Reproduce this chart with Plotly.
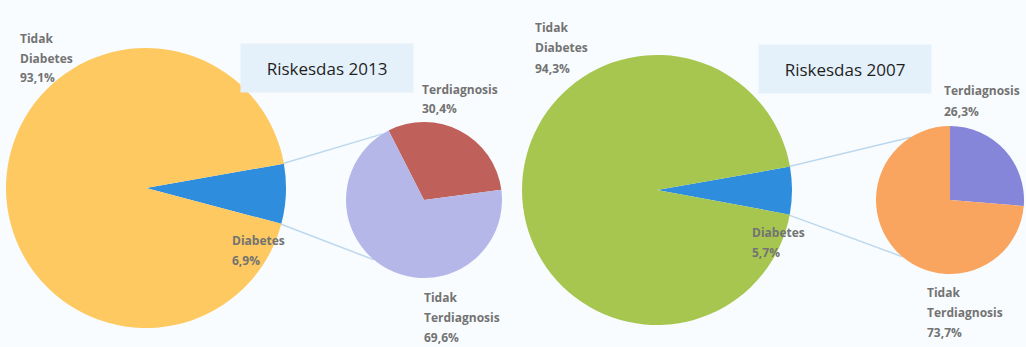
import math
import plotly.graph_objects as go

W, H = 1026, 347

# ---- data ----
big_labels = ["Diabetes", "Tidak Diabetes"]
small_labels = ["Terdiagnosis", "Tidak Terdiagnosis"]
titles = ["Riskesdas 2013", "Riskesdas 2007"]
big_2013 = [6.9, 93.1]
small_2013 = [30.4, 69.6]
big_2007 = [5.7, 94.3]
small_2007 = [26.3, 73.7]

# ---- styling / layout (pixels) ----
BG = "#f9fcfe"
big_colors = [["#2f8ddd", "#fdc960"], ["#2f8ddd", "#a6c650"]]
small_colors = [["#c0605b", "#b5b7e8"], ["#8585da", "#f9a55f"]]
# centre x, centre y, radius for each pie
big_geo = [(146, 188, 140), (657, 190, 135)]
small_geo = [(424, 200, 78), (950, 200, 74)]
big_rot = [80, 80]
small_rot = [-27, 0]
label_font = dict(family="Open Sans", size=12, color="#737373")
LINE = 21


def dom(cx, cy, r):
    return dict(x=[(cx - r) / W, (cx + r) / W], y=[1 - (cy + r) / H, 1 - (cy - r) / H])


def pt(cx, cy, r, ang):
    a = math.radians(ang)
    return (cx + r * math.sin(a)) / W, 1 - (cy - r * math.cos(a)) / H


fig = go.Figure()
shapes = []
annotations = []
datasets = [(big_2013, small_2013), (big_2007, small_2007)]

for i, (bvals, svals) in enumerate(datasets):
    bx, by, br = big_geo[i]
    sx, sy, sr = small_geo[i]
    fig.add_trace(go.Pie(labels=big_labels, values=bvals, sort=False, direction="clockwise",
                         rotation=big_rot[i], textinfo="none", hoverinfo="label+percent",
                         marker=dict(colors=big_colors[i], line=dict(width=0)),
                         domain=dom(bx, by, br), showlegend=False))
    fig.add_trace(go.Pie(labels=small_labels, values=svals, sort=False, direction="clockwise",
                         rotation=small_rot[i], textinfo="none", hoverinfo="label+percent",
                         marker=dict(colors=small_colors[i], line=dict(width=0)),
                         domain=dom(sx, sy, sr), showlegend=False))
    # connector lines from the Diabetes slice edges to the small pie
    a0 = big_rot[i]
    a1 = big_rot[i] + bvals[0] / sum(bvals) * 360
    p0 = pt(bx, by, br * 0.97, a0)
    p1 = pt(bx, by, br * 0.97, a1)
    q0 = pt(sx, sy, sr, -32)
    q1 = pt(sx, sy, sr, -140)
    for p, q in ((p0, q0), (p1, q1)):
        shapes.append(dict(type="line", xref="paper", yref="paper", x0=p[0], y0=p[1], x1=q[0], y1=q[1],
                           line=dict(color="#bcd8ee", width=1.5), layer="below"))

# title boxes
title_pos = [(327, 68), (845, 69)]
for t, (tx, ty) in zip(titles, title_pos):
    annotations.append(dict(text=t, x=tx / W, y=1 - ty / H, xref="paper", yref="paper",
                            xanchor="center", yanchor="middle", showarrow=False,
                            width=170, height=46, bgcolor="#e5f1fa",
                            font=dict(family="Open Sans", size=17, color="#1f1f1f")))


def fmt(v):
    return ("%.1f%%" % v).replace(".", ",")


# labels: (lines, x px, first-line y px)
label_specs = [
    (["Tidak", "Diabetes", fmt(big_2013[1])], 18, 38),
    (["Terdiagnosis", fmt(small_2013[0])], 420, 89),
    (["Diabetes", fmt(big_2013[0])], 230, 240),
    (["Tidak", "Terdiagnosis", fmt(small_2013[1])], 422, 297),
    (["Tidak", "Diabetes", fmt(big_2007[1])], 533, 28),
    (["Terdiagnosis", fmt(small_2007[0])], 942, 91),
    (["Diabetes", fmt(big_2007[0])], 750, 232),
    (["Tidak", "Terdiagnosis", fmt(small_2007[1])], 925, 292),
]
for lines, lx, ly in label_specs:
    for k, ln in enumerate(lines):
        annotations.append(dict(text="<b>%s</b>" % ln, x=lx / W, y=1 - (ly + k * 20) / H,
                                xref="paper", yref="paper", xanchor="left", yanchor="middle",
                                showarrow=False, font=label_font))

fig.update_layout(width=W, height=H, margin=dict(l=0, r=0, t=0, b=0),
                  paper_bgcolor=BG, plot_bgcolor=BG, shapes=shapes, annotations=annotations)
fig.write_html("out.html")
